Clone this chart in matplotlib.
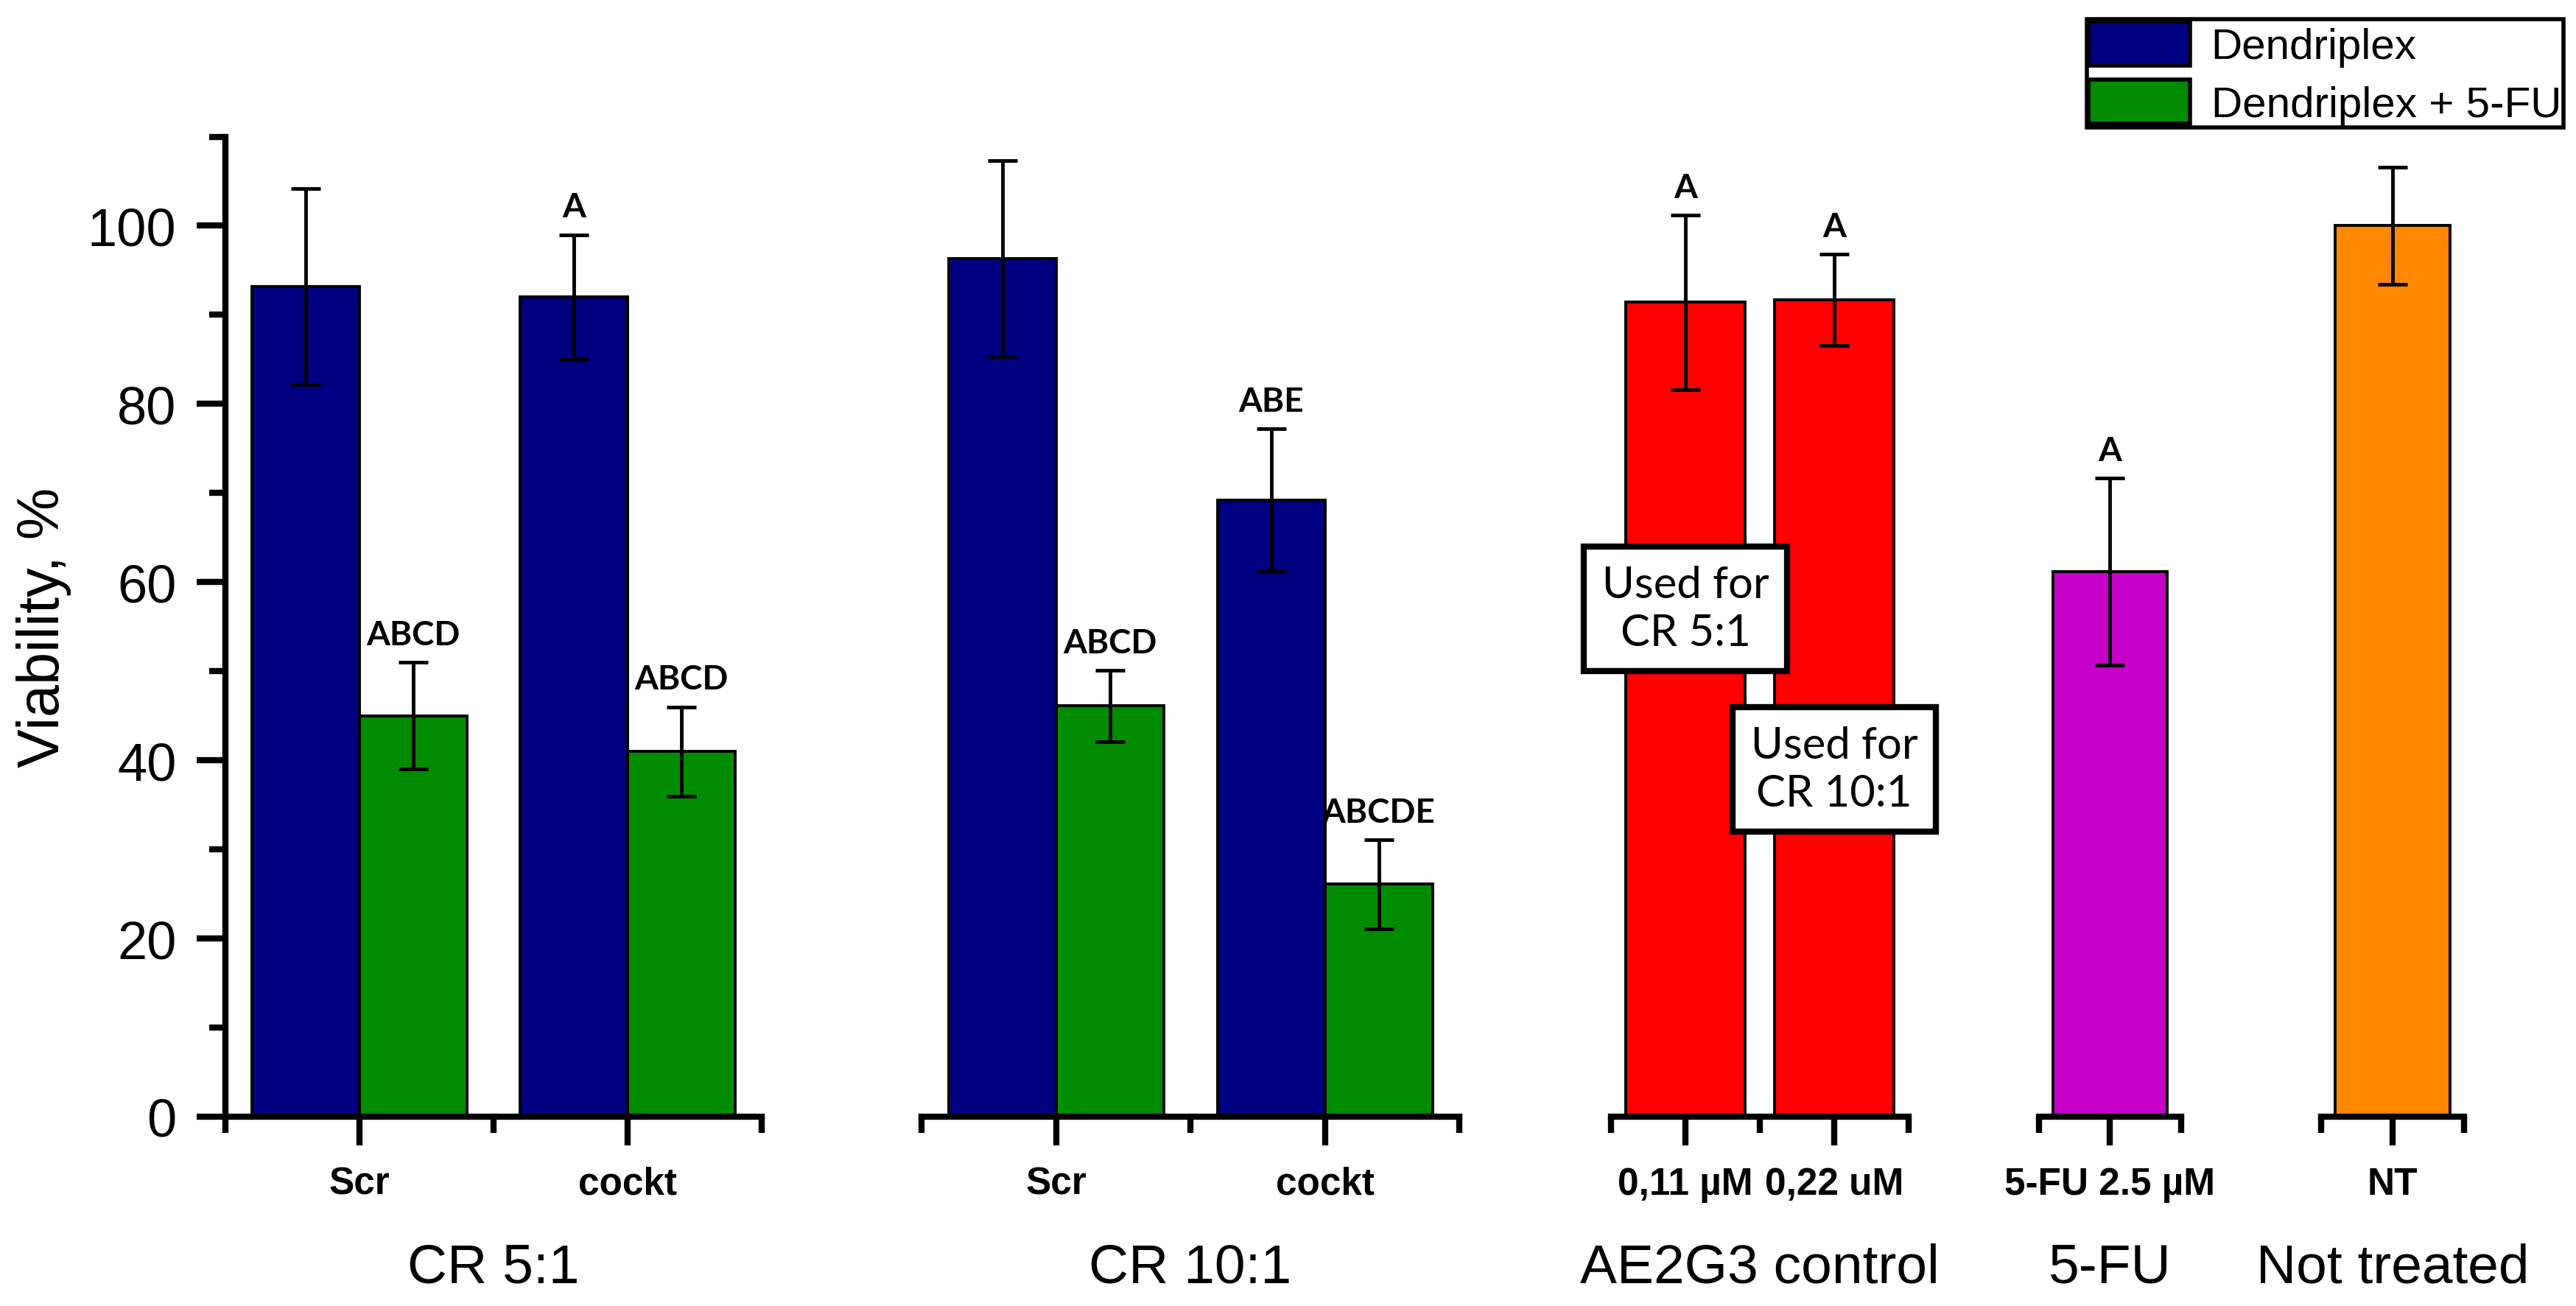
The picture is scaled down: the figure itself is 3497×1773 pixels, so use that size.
import matplotlib
matplotlib.use("Agg")
import matplotlib.pyplot as plt
import numpy as np

# Viability data (%)
group_names = ["CR 5:1", "CR 10:1", "AE2G3 control", "5-FU", "Not treated"]

cr_categories = ["Scr", "cockt"]
cr51_dendriplex = [93.2, 92.0]
cr51_dendriplex_err = [11.0, 7.0]
cr51_fu = [45.0, 41.0]
cr51_fu_err = [6.0, 5.0]
cr51_dendriplex_sig = ["", "A"]
cr51_fu_sig = ["ABCD", "ABCD"]

cr101_dendriplex = [96.3, 69.2]
cr101_dendriplex_err = [11.0, 8.0]
cr101_fu = [46.1, 26.1]
cr101_fu_err = [4.0, 5.0]
cr101_dendriplex_sig = ["", "ABE"]
cr101_fu_sig = ["ABCD", "ABCDE"]

ctrl_categories = ["0,11 µM", "0,22 uM"]
ctrl_values = [91.4, 91.7]
ctrl_err = [9.8, 5.1]
ctrl_sig = ["A", "A"]
ctrl_notes = ["Used for\nCR 5:1", "Used for\nCR 10:1"]
ctrl_note_y = [57, 39]

fu_categories = ["5-FU 2.5 µM"]
fu_values = [61.2]
fu_err = [10.5]
fu_sig = ["A"]

nt_categories = ["NT"]
nt_values = [100.0]
nt_err = [6.6]
nt_sig = [""]

NAVY = "#000080"
GREEN = "#008C00"
RED = "#FF0000"
MAGENTA = "#C600C6"
ORANGE = "#FF8800"

plt.rcParams["font.family"] = ["Liberation Sans", "DejaVu Sans"]

W, H = 3498, 1774
fig = plt.figure(figsize=(W / 100, H / 100), dpi=100)

# panel positions in pixels: left, right ; y axis from 1517 (0) to 186.5 (110)
y0_px, ytop_px = 1517, 186.5
panels_px = [(306, 1034), (1251, 1981), (2187, 2591), (2768, 2961), (3151, 3345)]

axes = []
for i, (l, r) in enumerate(panels_px):
    rect = [l / W, (H - y0_px) / H, (r - l) / W, (y0_px - ytop_px) / H]
    ax = fig.add_axes(rect, sharey=axes[0] if axes else None)
    axes.append(ax)

err_kw = dict(elinewidth=3.5, capthick=3.5, ecolor="black")
bar_kw = dict(edgecolor="black", linewidth=2.8, capsize=14.7, error_kw=err_kw)


def sig_text(ax, xs, tops, labels):
    for x, t, s in zip(xs, tops, labels):
        if s:
            ax.text(x, t + 2.0, s, ha="center", va="baseline", fontsize=33,
                    fontweight="bold", family=["Lato", "DejaVu Sans"])


# paired groups
paired = [
    (axes[0], cr51_dendriplex, cr51_dendriplex_err, cr51_fu, cr51_fu_err,
     cr51_dendriplex_sig, cr51_fu_sig),
    (axes[1], cr101_dendriplex, cr101_dendriplex_err, cr101_fu, cr101_fu_err,
     cr101_dendriplex_sig, cr101_fu_sig),
]
handles = None
for ax, dv, de, fv, fe, ds, fs in paired:
    x = np.arange(len(cr_categories))
    b1 = ax.bar(x - 0.2, dv, 0.4, yerr=de, color=NAVY, label="Dendriplex", **bar_kw)
    b2 = ax.bar(x + 0.2, fv, 0.4, yerr=fe, color=GREEN, label="Dendriplex + 5-FU", **bar_kw)
    sig_text(ax, x - 0.2, np.add(dv, de), ds)
    sig_text(ax, x + 0.2, np.add(fv, fe), fs)
    ax.set_xticks(x, cr_categories)
    ax.set_xlim(-0.5, len(x) - 0.5)
    if handles is None:
        handles = [b1, b2]

# single groups
singles = [
    (axes[2], ctrl_categories, ctrl_values, ctrl_err, ctrl_sig, RED),
    (axes[3], fu_categories, fu_values, fu_err, fu_sig, MAGENTA),
    (axes[4], nt_categories, nt_values, nt_err, nt_sig, ORANGE),
]
for ax, cats, vals, errs, sig, col in singles:
    x = np.arange(len(cats))
    ax.bar(x, vals, 0.8, yerr=errs, color=col, **bar_kw)
    sig_text(ax, x, np.add(vals, errs), sig)
    ax.set_xticks(x, cats)
    ax.set_xlim(-0.5, len(x) - 0.5)

for i, note in enumerate(ctrl_notes):
    axes[2].text(i, ctrl_note_y[i], note, ha="center", va="center", fontsize=43,
                 family=["Lato", "DejaVu Sans"], linespacing=1.25, zorder=5,
                 bbox=dict(boxstyle="square,pad=0.42", fc="white", ec="black", lw=6))

for ax, name in zip(axes, group_names):
    n = len(ax.get_xticks())
    ax.set_xticks(np.arange(n + 1) - 0.5, minor=True)
    ax.set_ylim(0, 110)
    for s in ("top", "right"):
        ax.spines[s].set_visible(False)
    ax.spines["bottom"].set_linewidth(6)
    ax.spines["left"].set_linewidth(6)
    ax.tick_params(axis="both", which="major", length=28, width=6, pad=20, direction="out")
    ax.tick_params(axis="both", which="minor", length=16, width=6, direction="out")
    ax.tick_params(axis="x", labelsize=37)
    for lab in ax.get_xticklabels():
        lab.set_fontweight("bold")
    ax.set_xlabel(name, fontsize=54)
    ax.xaxis.set_label_coords(0.5, -0.1285)
    ax.patch.set_visible(False)

axes[0].set_yticks(np.arange(0, 101, 20))
axes[0].set_yticks(np.arange(10, 111, 20), minor=True)
axes[0].tick_params(axis="y", labelsize=52)
axes[0].set_ylabel("Viability, %", fontsize=57)
axes[0].yaxis.set_label_coords(-0.287, 0.5)
for ax in axes[1:]:
    ax.spines["left"].set_visible(False)
    ax.tick_params(axis="y", which="both", left=False, labelleft=False)

leg = fig.legend(handles=handles, loc="upper right",
                 bbox_to_anchor=(3480 / W, 1 - 27 / H), bbox_transform=fig.transFigure,
                 fontsize=42, frameon=True, fancybox=False, framealpha=1,
                 edgecolor="black", borderpad=0.05, labelspacing=0.3,
                 handlelength=2.35, handleheight=1.2, handletextpad=0.5,
                 borderaxespad=0)
leg.get_frame().set_linewidth(4)
for patch in leg.get_patches():
    patch.set_linewidth(4)

fig.savefig("out.png", dpi=100)
